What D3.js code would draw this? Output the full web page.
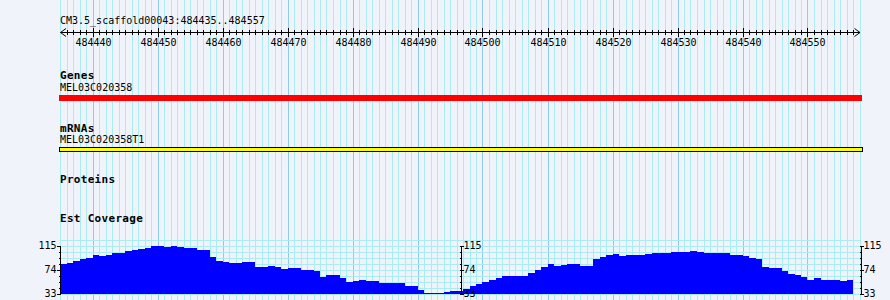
<!DOCTYPE html>
<html><head><meta charset="utf-8">
<script src="https://cdn.jsdelivr.net/npm/d3@7/dist/d3.min.js"></script>
<style>
body{margin:0;background:#f0f4fa;}
svg{display:block;}
text{font-family:"DejaVu Sans Mono",monospace;fill:#000;}
</style>
</head><body>
<svg id="chart" width="890" height="300"></svg>
<script>
// ---------- data ----------
const rulerLabel = "CM3.5_scaffold00043:484435..484557";
const viewStart = 484435;
const viewEnd = 484557;
const rulerTickLabels = [484440, 484450, 484460, 484470, 484480, 484490, 484500, 484510, 484520, 484530, 484540, 484550];
const trackTitles = ["Genes", "mRNAs", "Proteins", "Est Coverage"];
const geneNames = ["MEL03C020358"];
const mrnaNames = ["MEL03C020358T1"];
const coverageMin = 33;
const coverageMax = 115;
const coverageTickLabels = [33, 74, 115];
// one coverage value per base, starting at 484435
const coverage = [
  84, 85.5, 89, 92.5, 94, 99, 97.5, 99, 102.5, 102.5,
  106, 108, 109.5, 111, 114, 115, 113, 114.5, 113, 111,
  111, 107.5, 107.5, 96, 89, 87.5, 85.5, 85.5, 87.5, 87.5,
  79, 79, 80.5, 79, 75.5, 77, 77, 74, 74, 71,
  62, 65.5, 65, 60, 53, 55, 56.5, 55, 55, 51.5,
  51.5, 51.5, 51.5, 46.5, 46, 39.5, 34.5, 34.5, 34.5, 36,
  37.5, 37.5, 40.5, 46, 49, 53, 57, 60.5, 64, 64,
  64, 64, 69, 73.5, 79, 83, 80.5, 81.5, 83, 84.5,
  81, 81, 93, 96.5, 98.5, 100.5, 97.5, 99.5, 99.5, 99.5,
  101, 103, 103, 103, 104.5, 104.5, 104.5, 106, 104.5, 103,
  103, 103, 103, 99.5, 99.5, 97, 94, 92.5, 79, 77,
  77, 72, 67.5, 65.5, 61, 57, 59.7, 57, 57, 57,
  55.5, 57
];

// ---------- layout ----------
const svg = d3.select("#chart");
const W = 890, H = 300;
const x = d3.scaleLinear().domain([viewStart, viewEnd + 1]).range([60.5, 860]);
const px = v => Math.floor(x(v)) + 0.5;
const panelLeft = 59, panelRight = 862;

const minorGrid = "#a9edf2", majorGrid = "#8fcbee";

// coverage y scale
const y = d3.scaleLinear().domain([coverageMin, coverageMax]).range([293.7, 245.7]);
const covStep = (coverageMax - coverageMin) / 8;
const covTicks = d3.range(0, 9).map(i => coverageMin + i * covStep);

// ---------- vertical grid ----------
const gridPos = d3.range(viewStart, viewEnd + 2);
svg.append("g").selectAll("line").data(gridPos).join("line")
  .attr("x1", d => px(d)).attr("x2", d => px(d))
  .attr("y1", 0).attr("y2", H)
  .attr("stroke", d => d % 10 === 0 ? majorGrid : minorGrid)
  .attr("stroke-width", 1);

// horizontal grid in coverage panel
const hGrid = covTicks.concat([coverageMin + 9 * covStep]);
svg.append("g").selectAll("line").data(hGrid).join("line")
  .attr("x1", 60).attr("x2", 861)
  .attr("y1", d => Math.round(y(d)) + 0.5).attr("y2", d => Math.round(y(d)) + 0.5)
  .attr("stroke", minorGrid).attr("stroke-width", 1);

// ---------- ruler ----------
const ruler = svg.append("g");
ruler.append("text").attr("x", 60).attr("y", 24).attr("font-size", "10px").text(rulerLabel);
ruler.append("line").attr("x1", 60.5).attr("x2", 860).attr("y1", 32.5).attr("y2", 32.5)
  .attr("stroke", "#000");
ruler.append("path").attr("d", "M66,28.5L60.5,32.5L66,36.5").attr("fill", "none").attr("stroke", "#000");
ruler.append("path").attr("d", "M854.5,28.5L860,32.5L854.5,36.5").attr("fill", "none").attr("stroke", "#000");
const rulerTicks = d3.range(viewStart + 1, viewEnd + 1);
ruler.append("g").selectAll("line").data(rulerTicks).join("line")
  .attr("x1", d => px(d)).attr("x2", d => px(d))
  .attr("y1", d => d % 10 === 0 ? 28 : 30)
  .attr("y2", d => d % 10 === 0 ? 37 : 35)
  .attr("stroke", "#000");
ruler.append("g").selectAll("text").data(rulerTickLabels).join("text")
  .attr("x", d => px(d)).attr("y", 45.5)
  .attr("text-anchor", "middle").attr("font-size", "10px")
  .text(d => d);

// ---------- track titles ----------
const titleY = [79, 131.5, 182.5, 221.5];
svg.append("g").selectAll("text").data(trackTitles).join("text")
  .attr("x", 60).attr("y", (d, i) => titleY[i])
  .attr("font-size", "11px").attr("font-weight", "bold").attr("letter-spacing", "0.3px")
  .text(d => d);

// ---------- genes ----------
svg.append("text").attr("x", 60).attr("y", 90.5).attr("font-size", "10px").text(geneNames[0]);
svg.append("rect").attr("x", panelLeft).attr("y", 95).attr("width", panelRight - panelLeft).attr("height", 6)
  .attr("fill", "#ff0000");

// ---------- mRNAs ----------
svg.append("text").attr("x", 60).attr("y", 143).attr("font-size", "10px").text(mrnaNames[0]);
svg.append("rect").attr("x", panelLeft + 0.5).attr("y", 147.5).attr("width", panelRight - panelLeft).attr("height", 4)
  .attr("fill", "#ffff00").attr("stroke", "#000").attr("stroke-width", 1);

// ---------- coverage ----------
svg.append("g").attr("shape-rendering", "crispEdges").selectAll("rect").data(coverage).join("rect")
  .attr("x", (d, i) => Math.floor(x(viewStart + i)))
  .attr("width", (d, i) => Math.floor(x(viewStart + i + 1)) - Math.floor(x(viewStart + i)))
  .attr("y", d => y(Math.min(d, coverageMax)))
  .attr("height", d => y(coverageMin) - y(Math.min(d, coverageMax)))
  .attr("fill", "#0000ff");

// axes (left, centre, right)
const axisXs = [60.5, Math.round((panelLeft + panelRight) / 2) + 0.5, 861.5];
axisXs.forEach((ax, k) => {
  const g = svg.append("g").attr("shape-rendering", "crispEdges");
  g.append("line").attr("x1", ax).attr("x2", ax).attr("y1", y(coverageMax)).attr("y2", y(coverageMin))
    .attr("stroke", "#000");
  g.selectAll("line.t").data(covTicks).join("line").attr("class", "t")
    .attr("y1", d => Math.round(y(d)) + 0.5).attr("y2", d => Math.round(y(d)) + 0.5)
    .attr("x1", d => coverageTickLabels.includes(Math.round(d)) ? (k === 0 ? ax - 4 : ax - 2) : ax - 2)
    .attr("x2", d => coverageTickLabels.includes(Math.round(d)) ? (k === 0 ? ax : ax + 2.5) : ax)
    .attr("stroke", "#000");
  g.selectAll("text").data(coverageTickLabels).join("text")
    .attr("x", k === 0 ? ax - 4 : ax + 2)
    .attr("y", d => y(d) + 3.5)
    .attr("text-anchor", k === 0 ? "end" : "start")
    .attr("font-size", "10px")
    .text(d => d);
});
</script>
</body></html>
